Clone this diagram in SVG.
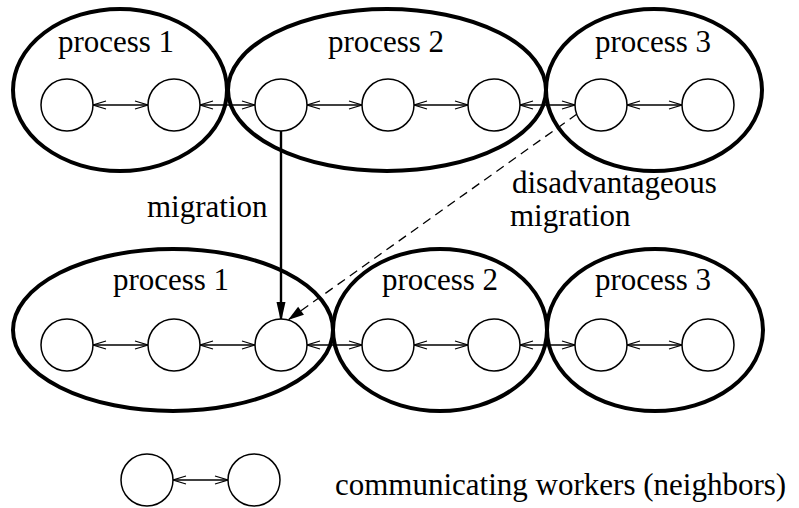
<svg xmlns="http://www.w3.org/2000/svg" width="799" height="508" viewBox="0 0 799 508">
  <defs>
    <style>
      .proc { fill: none; stroke: #000; stroke-width: 4; }
      .worker { fill: #fff; stroke: #000; stroke-width: 1.5; }
      .link { fill: none; stroke: #000; stroke-width: 1.3; marker-start: url(#open); marker-end: url(#open); }
      .mig { fill: none; stroke: #000; stroke-width: 2.4; marker-end: url(#solid); }
      .bad { fill: none; stroke: #000; stroke-width: 1.3; stroke-dasharray: 9 6; marker-end: url(#solidSmall); }
      text { font-family: "Liberation Serif", "Times New Roman", serif; font-size: 31px; fill: #000; }
      .c { text-anchor: middle; }
    </style>
    <marker id="open" markerUnits="userSpaceOnUse" viewBox="-15 -6 17 12" markerWidth="17" markerHeight="12" refX="0" refY="0" orient="auto-start-reverse" overflow="visible">
      <path d="M -13 -4 L 0 0 L -13 4" fill="none" stroke="#000" stroke-width="1.3"/>
    </marker>
    <marker id="solid" markerUnits="userSpaceOnUse" viewBox="-21 -6 22 12" markerWidth="22" markerHeight="12" refX="0" refY="0" orient="auto" overflow="visible">
      <path d="M -20 -4.5 L 0 0 L -20 4.5 Z" fill="#000"/>
    </marker>
    <marker id="solidSmall" markerUnits="userSpaceOnUse" viewBox="-17 -6 18 12" markerWidth="18" markerHeight="12" refX="0" refY="0" orient="auto" overflow="visible">
      <path d="M -16 -5 L 0 0 L -16 5 Z" fill="#000"/>
    </marker>
  </defs>

  <rect width="799" height="508" fill="#fff"/>

  <!-- upper row: processes before migration -->
  <g id="top-process-1">
    <ellipse class="proc" cx="120" cy="90" rx="107" ry="81"/>
    <text class="c" x="116" y="52">process 1</text>
  </g>
  <g id="top-process-2">
    <ellipse class="proc" cx="387" cy="90" rx="159" ry="81"/>
    <text class="c" x="386" y="52">process 2</text>
  </g>
  <g id="top-process-3">
    <ellipse class="proc" cx="654" cy="90" rx="108" ry="81"/>
    <text class="c" x="653" y="52">process 3</text>
  </g>

  <!-- lower row: processes after migration -->
  <g id="bottom-process-1">
    <ellipse class="proc" cx="173" cy="330" rx="160" ry="81"/>
    <text class="c" x="171" y="290">process 1</text>
  </g>
  <g id="bottom-process-2">
    <ellipse class="proc" cx="440" cy="330" rx="107" ry="81"/>
    <text class="c" x="440" y="290">process 2</text>
  </g>
  <g id="bottom-process-3">
    <ellipse class="proc" cx="655" cy="330" rx="108" ry="81"/>
    <text class="c" x="653" y="290">process 3</text>
  </g>

  <!-- connectors -->
  <g id="connectors">
    <!-- neighbour links, upper row -->
    <line class="link" x1="93" y1="105" x2="148" y2="105"/>
    <line class="link" x1="200" y1="105" x2="255" y2="105"/>
    <line class="link" x1="307" y1="105" x2="362" y2="105"/>
    <line class="link" x1="414" y1="105" x2="468" y2="105"/>
    <line class="link" x1="520" y1="105" x2="575" y2="105"/>
    <line class="link" x1="627" y1="105" x2="682" y2="105"/>
    <!-- neighbour links, lower row -->
    <line class="link" x1="93" y1="345" x2="148" y2="345"/>
    <line class="link" x1="200" y1="345" x2="255" y2="345"/>
    <line class="link" x1="307" y1="345" x2="362" y2="345"/>
    <line class="link" x1="414" y1="345" x2="468" y2="345"/>
    <line class="link" x1="520" y1="345" x2="575" y2="345"/>
    <line class="link" x1="627" y1="345" x2="682" y2="345"/>
    <!-- legend link -->
    <line class="link" x1="173" y1="480" x2="228" y2="480"/>
    <!-- migrations -->
    <line class="mig" x1="281" y1="131" x2="281" y2="322"/>
    <line class="bad" x1="577" y1="114" x2="288" y2="320"/>
  </g>

  <!-- workers -->
  <g id="workers-top">
    <circle class="worker" cx="67" cy="105" r="26"/>
    <circle class="worker" cx="174" cy="105" r="26"/>
    <circle class="worker" cx="281" cy="105" r="26"/>
    <circle class="worker" cx="388" cy="105" r="26"/>
    <circle class="worker" cx="494" cy="105" r="26"/>
    <circle class="worker" cx="601" cy="105" r="26"/>
    <circle class="worker" cx="708" cy="105" r="26"/>
  </g>
  <g id="workers-bottom">
    <circle class="worker" cx="67" cy="345" r="26"/>
    <circle class="worker" cx="174" cy="345" r="26"/>
    <circle class="worker" cx="281" cy="345" r="26"/>
    <circle class="worker" cx="388" cy="345" r="26"/>
    <circle class="worker" cx="494" cy="345" r="26"/>
    <circle class="worker" cx="601" cy="345" r="26"/>
    <circle class="worker" cx="708" cy="345" r="26"/>
  </g>

  <!-- labels -->
  <g id="labels">
    <text x="147" y="217">migration</text>
    <text x="512" y="193">disadvantageous</text>
    <text x="510" y="226">migration</text>
  </g>

  <!-- legend -->
  <g id="legend">
    <circle class="worker" cx="147" cy="480" r="26"/>
    <circle class="worker" cx="254" cy="480" r="26"/>
    <text x="335" y="495">communicating workers (neighbors)</text>
  </g>
</svg>
